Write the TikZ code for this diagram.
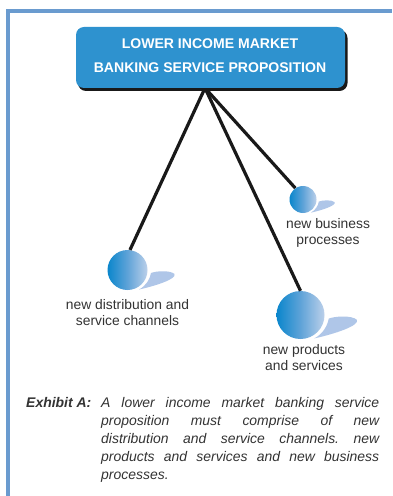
\documentclass[tikz,border=0pt]{standalone}
\usepackage{fontspec}
\setmainfont{Liberation Sans}
\definecolor{frameblue}{HTML}{6A9BCF}
\definecolor{boxblue}{HTML}{2E92CF}
\definecolor{ballL}{HTML}{0A86CC}
\definecolor{ballM}{HTML}{5FA3D8}
\definecolor{ballR}{HTML}{BCD0EA}
\definecolor{petalc}{HTML}{AFC6E8}
\definecolor{txt}{HTML}{333333}
\newcommand{\petalat}[2]{\fill[petalc,shift={(#1)},scale=#2] (11.5,19.5) .. controls (18.5,16) and (22.5,9) .. (23.5,3) .. controls (28.5,1) and (42.5,0) .. (47,4) .. controls (49.5,9) and (27.5,16) .. (11.5,19.5) -- cycle;}
\newcommand{\jline}[1]{\hbox to 278bp{#1}}
\tikzset{
  x=1bp,y=-1bp,
  link/.style={draw=black!90,line width=3.2bp},
  ball/.style={circle,inner sep=0pt,left color=ballL,right color=ballR,middle color=ballM},
  lab/.style={align=center,font=\fontsize{13.9}{16}\selectfont,text=txt,inner sep=0pt},
  head/.style={align=center,font=\bfseries\fontsize{14.1}{24}\selectfont,text=white,inner sep=0pt},
  para/.style={anchor=base west,inner sep=0pt,font=\itshape\fontsize{14}{16}\selectfont,text=txt}
}
\begin{document}
\begin{tikzpicture}
\useasboundingbox (0,0) rectangle (392,496);
\fill[white] (0,0) rectangle (392,496);
\fill[frameblue] (6,9) rectangle (392,12.7);
\fill[frameblue] (6,9) rectangle (10,496);
% nodes
\coordinate (hub) at (205,88);
\node[ball,minimum size=40bp] (d) at (127.5,270) {};
\node[ball,minimum size=48bp] (p) at (300.5,315) {};
\node[ball,minimum size=27bp] (b) at (303,199.5) {};
\draw[link] (hub) -- (d.83);
\draw[link] (hub) -- (p.north);
\draw[link] (hub) -- (b.124);
% shadow and box
\fill[black!90,rounded corners=8bp] (78,30) rectangle (347.5,91);
\node[fill=boxblue,rounded corners=8bp,minimum width=269bp,minimum height=61bp,inner sep=0pt] (main) at (210.5,57.5) {};
\node[head] (title) at (210,55.5) {LOWER INCOME MARKET\\BANKING SERVICE PROPOSITION};
% petals
\petalat{d.center}{1}
\petalat{p.center}{1.2}
\petalat{b.center}{0.675}
% labels
\node[lab] (ld) at (127.5,313) {new distribution and\\service channels};
\node[lab] (lp) at (304,357.5) {new products\\and services};
\node[lab] (lb) at (328,232.5) {new business\\processes};
\node[para,font=\bfseries\itshape\fontsize{14}{16}\selectfont] (ex) at (26,407) {Exhibit A:};
\node[para] (l1) at (101,407) {\jline{A\hfill lower\hfill income\hfill market\hfill banking\hfill service}};
\node[para] (l2) at (101,425) {\jline{proposition\hfill must\hfill comprise\hfill of\hfill new}};
\node[para] (l3) at (101,443) {\jline{distribution\hfill and\hfill service\hfill channels.\hfill new}};
\node[para] (l4) at (101,461) {\jline{products\hfill and\hfill services\hfill and\hfill new\hfill business}};
\node[para] (l5) at (101,479) {processes.};
\end{tikzpicture}
\end{document}
